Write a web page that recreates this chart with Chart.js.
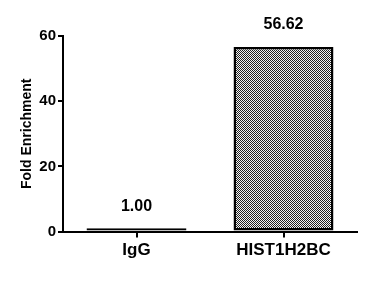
<!DOCTYPE html>
<html><head><meta charset="utf-8">
<script src="https://cdn.jsdelivr.net/npm/chart.js@4/dist/chart.umd.min.js"></script>
<style>html,body{margin:0;padding:0;background:#fff;}</style>
</head><body>
<canvas id="c" width="366" height="300"></canvas>
<script>
const categories = ["IgG", "HIST1H2BC"];
const values = [1.00, 56.62];
const valueLabels = ["1.00", "56.62"];
const yTicks = [0, 20, 40, 60];

function makePattern() {
  const p = document.createElement('canvas');
  p.width = 2; p.height = 2;
  const g = p.getContext('2d');
  g.fillStyle = '#f4f4f4'; g.fillRect(0, 0, 2, 2);
  g.fillStyle = '#222222'; g.fillRect(0, 0, 1, 1); g.fillRect(1, 1, 1, 1);
  return g.createPattern(p, 'repeat');
}
const ctx = document.getElementById('c').getContext('2d');
const pattern = makePattern();
const FONT = 'Arial, "Liberation Sans", sans-serif';

const labelPlugin = {
  id: 'valLabels',
  afterDatasetsDraw(chart) {
    const c = chart.ctx;
    const meta = chart.getDatasetMeta(0);
    c.save();
    c.font = 'bold 16px ' + FONT;
    c.fillStyle = '#000';
    c.textAlign = 'center';
    c.textBaseline = 'bottom';
    meta.data.forEach((bar, i) => {
      c.fillText(valueLabels[i], bar.x, bar.y - 14);
    });
    c.restore();
  }
};

new Chart(ctx, {
  type: 'bar',
  data: {
    labels: categories,
    datasets: [{
      data: values,
      backgroundColor: pattern,
      borderColor: '#000',
      borderWidth: 2.5,
      borderSkipped: false,
      categoryPercentage: 1,
      barPercentage: 0.68
    }]
  },
  options: {
    responsive: false,
    animation: false,
    layout: { padding: { left: 19, right: 9, top: 36, bottom: 36 } },
    plugins: { legend: { display: false }, tooltip: { enabled: false } },
    scales: {
      x: {
        grid: { display: true, drawOnChartArea: false, offset: false, color: '#000', lineWidth: 2, tickLength: 6 },
        border: { display: true, color: '#000', width: 2 },
        ticks: { color: '#000', font: { family: FONT, size: 17, weight: 'bold' }, padding: 3 }
      },
      y: {
        min: 0, max: 60,
        afterBuildTicks(axis) { axis.ticks = yTicks.map(v => ({ value: v })); },
        afterFit(axis) { axis.width = 44; },
        grid: { display: true, drawOnChartArea: false, color: '#000', lineWidth: 2, tickLength: 5 },
        border: { display: true, color: '#000', width: 2 },
        ticks: { color: '#000', font: { family: FONT, size: 15, weight: 'bold' }, padding: 2 },
        title: { display: true, text: 'Fold Enrichment', color: '#000', font: { family: FONT, size: 14, weight: 'bold' }, padding: { top: 0, bottom: 0 } }
      }
    }
  },
  plugins: [labelPlugin]
});
</script>
</body></html>
